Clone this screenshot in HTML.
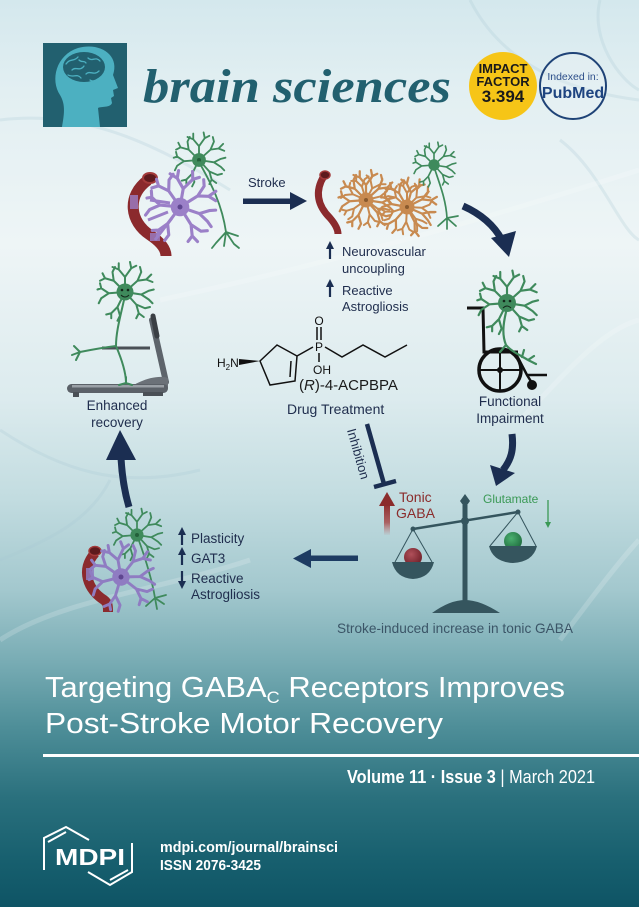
<!DOCTYPE html>
<html><head><meta charset="utf-8"><style>
html,body{margin:0;padding:0;width:639px;height:907px;overflow:hidden;background:#0f5666}
svg{display:block}
text{font-family:"Liberation Sans",sans-serif}
</style></head><body>
<svg xmlns="http://www.w3.org/2000/svg" xmlns:xlink="http://www.w3.org/1999/xlink" width="639" height="907" viewBox="0 0 639 907">
<defs>
<linearGradient id="bg" x1="0" y1="0" x2="0" y2="1">
<stop offset="0" stop-color="#d4e8ed"/>
<stop offset="0.1" stop-color="#e2eff2"/>
<stop offset="0.27" stop-color="#eef5f6"/>
<stop offset="0.44" stop-color="#dcebee"/>
<stop offset="0.55" stop-color="#c2dce0"/>
<stop offset="0.65" stop-color="#a3c8ce"/>
<stop offset="0.73" stop-color="#78acb4"/>
<stop offset="0.8" stop-color="#4f8f99"/>
<stop offset="0.88" stop-color="#2a707d"/>
<stop offset="0.95" stop-color="#175f6e"/>
<stop offset="1" stop-color="#0e5465"/>
</linearGradient>
<linearGradient id="redg" x1="0" y1="0" x2="0" y2="1">
<stop offset="0" stop-color="#8b2c2c"/>
<stop offset="0.6" stop-color="#a64444" stop-opacity="0.8"/>
<stop offset="1" stop-color="#c06060" stop-opacity="0.05"/>
</linearGradient>
<radialGradient id="rball" cx="0.4" cy="0.35" r="0.7">
<stop offset="0" stop-color="#b0505a"/><stop offset="1" stop-color="#6e1f28"/>
</radialGradient>
<radialGradient id="gball" cx="0.4" cy="0.35" r="0.7">
<stop offset="0" stop-color="#4bb070"/><stop offset="1" stop-color="#1e6b3e"/>
</radialGradient>
<g id="star" fill="none" stroke="currentColor" stroke-linecap="round" stroke-linejoin="round">
<path d="M0 0L0 -12L-5 -18L-5 -23M-5 -18L-10 -20M0 -12L5 -19L4 -24M5 -19L9 -21M0 0L10 -9L17 -10L21 -14M17 -10L22 -8M10 -9L13 -16L12 -20M0 0L13 2L19 -1L23 -2M13 2L19 6L22 9M0 0L9 10L11 17L9 21M11 17L15 20M9 10L16 13L20 12M0 0L-6 12L-11 17L-15 18M-11 17L-11 21M-6 12L-4 19L-6 23M0 0L-13 1L-19 -3L-22 -2M-19 -3L-20 -7M-13 1L-19 5L-21 9M0 0L-9 -9L-16 -11L-20 -9M-16 -11L-18 -15M-9 -9L-10 -16L-8 -20"/>
<circle r="6" fill="currentColor" stroke="none"/>
</g>
</defs>

<rect width="639" height="907" fill="url(#bg)"/>
<!-- faint veins -->
<g fill="none" stroke="#a9c9d2" stroke-opacity="0.25" stroke-width="3">
<path d="M0 120 C 80 110, 150 140, 230 190"/>
<path d="M470 0 C 500 60, 560 90, 639 100"/>
<path d="M600 0 C 590 40, 620 80, 639 90"/>
<path d="M560 140 C 600 170, 620 230, 639 240"/>
<path d="M0 430 C 60 470, 120 490, 200 470"/>
<path d="M0 560 C 50 540, 90 520, 110 480"/>
</g>
<g fill="none" stroke="#ffffff" stroke-opacity="0.18" stroke-width="5">
<path d="M160 300 C 300 270, 450 230, 639 170"/>
<path d="M520 420 C 560 380, 600 330, 639 320"/>
<path d="M560 640 C 590 600, 620 560, 639 540"/>
<path d="M0 640 C 60 600, 160 590, 250 560"/>
</g>

<!-- Logo -->
<rect x="43" y="43" width="84" height="84" fill="#22606f"/>
<path d="M62 127 C 64 115, 66 105, 60 95 C 50 80, 56 55, 78 48 C 100 42, 120 55, 113 75 L 118 88 L 113 90 L 114 96 L 111 98 L 112 103 C 110 108, 102 106, 98 108 L 100 127 Z" fill="#4cb0c1"/>
<ellipse cx="84" cy="67" rx="21" ry="15" fill="#22606f"/>
<g fill="none" stroke="#4cb0c1" stroke-width="1.3" stroke-linecap="round">
<path d="M66 64 C 70 58, 74 62, 78 57 M72 70 C 76 66, 80 72, 84 66 M88 58 C 92 62, 96 56, 100 61 M68 75 C 73 78, 77 73, 81 78 M86 74 C 90 70, 94 76, 99 71 M90 80 C 94 83, 98 79, 102 76 M79 60 C 82 63, 84 60, 86 63"/>
</g>
<text x="143" y="102" font-family="Liberation Serif, serif" font-weight="bold" font-style="italic" font-size="48" fill="#22606f" textLength="308" lengthAdjust="spacingAndGlyphs" style="font-family:'Liberation Serif',serif">brain sciences</text>

<!-- Impact factor -->
<circle cx="503" cy="86" r="34" fill="#f6c517"/>
<text x="503" y="73" text-anchor="middle" font-weight="bold" font-size="13" fill="#1a1a1a">IMPACT</text>
<text x="503" y="86" text-anchor="middle" font-weight="bold" font-size="13" fill="#1a1a1a">FACTOR</text>
<text x="503" y="102" text-anchor="middle" font-weight="bold" font-size="17" fill="#1a1a1a">3.394</text>
<circle cx="573" cy="86" r="33" fill="#eaf3f6" fill-opacity="0.3" stroke="#1f4377" stroke-width="2"/>
<text x="573" y="80" text-anchor="middle" font-size="10.5" fill="#2d4f8a">Indexed in:</text>
<text x="573" y="98" text-anchor="middle" font-weight="bold" font-size="16" fill="#1e4480">PubMed</text>

<!-- Group A top-left -->
<use href="#star" transform="translate(199,160) scale(1.15)" color="#3f8a5c" stroke-width="1.6"/>
<circle cx="199" cy="160" r="2" fill="#23603a"/>
<path d="M199 162 C 212 185, 222 205, 226 232 M226 232 L216 243 M226 232 L224 246 M226 232 L234 244 M226 232 L238 236 M216 243 L212 248 M234 244 L239 248" fill="none" stroke="#3f8a5c" stroke-width="1.8" stroke-linecap="round"/>
<path d="M148 180 C 126 196, 130 222, 150 235 C 162 243, 166 250, 166 256" fill="none" stroke="#8b2a2d" stroke-width="11"/>
<ellipse cx="150" cy="178" rx="7" ry="5" fill="#5e1a1d" stroke="#a33a3a" stroke-width="2"/>
<use href="#star" transform="translate(180,207) scale(1.55) rotate(10)" color="#9b80c8" stroke-width="2"/>
<circle cx="180" cy="207" r="2.5" fill="#5e4690"/>
<path d="M150 200 L170 203 M148 220 L168 212 M155 240 L172 218" stroke="#9b80c8" stroke-width="3" fill="none"/>
<rect x="130" y="195" width="8" height="14" fill="#9b80c8" opacity="0.8"/>
<rect x="150" y="233" width="10" height="8" fill="#9b80c8" opacity="0.8"/>

<text x="248" y="187" font-size="13" fill="#1f2d4d">Stroke</text>
<rect x="243" y="198.5" width="49" height="5.5" fill="#1b2e52"/>
<polygon points="290,192 307,201 290,210" fill="#1b2e52"/>

<!-- Group B -->
<path d="M324 176 C 314 192, 318 206, 330 218 C 336 225, 338 230, 338 234" fill="none" stroke="#8b2a2d" stroke-width="7"/>
<ellipse cx="325" cy="175" rx="5" ry="4" fill="#5e1a1d" stroke="#a33a3a" stroke-width="1.5"/>
<use href="#star" transform="translate(366,200) scale(1.25)" color="#c88a50" stroke-width="1.8"/>
<use href="#star" transform="translate(366,200) scale(1.1) rotate(28)" color="#c88a50" stroke-width="1.8"/>
<use href="#star" transform="translate(407,207) scale(1.25) rotate(15)" color="#c88a50" stroke-width="1.8"/>
<use href="#star" transform="translate(407,207) scale(1.1) rotate(45)" color="#c88a50" stroke-width="1.8"/>
<circle cx="366" cy="200" r="2" fill="#8a5a2e"/><circle cx="407" cy="207" r="2" fill="#8a5a2e"/>
<use href="#star" transform="translate(434,165) scale(0.95)" color="#3f8a5c" stroke-width="1.7"/>
<path d="M434 167 C 440 185, 446 200, 447 218 M447 218 L438 226 M447 218 L447 229 M447 218 L456 226 M447 218 L458 216" fill="none" stroke="#3f8a5c" stroke-width="1.7" stroke-linecap="round"/>

<path d="M330 259 L330 248" stroke="#1b2e52" stroke-width="2.2"/><polygon points="326,249 330,241 334,249" fill="#1b2e52"/>
<path d="M330 297 L330 286" stroke="#1b2e52" stroke-width="2.2"/><polygon points="326,287 330,279 334,287" fill="#1b2e52"/>
<text x="342" y="256" font-size="13" fill="#1f2d4d">Neurovascular</text>
<text x="342" y="273" font-size="13" fill="#1f2d4d">uncoupling</text>
<text x="342" y="295" font-size="13" fill="#1f2d4d">Reactive</text>
<text x="342" y="311" font-size="13" fill="#1f2d4d">Astrogliosis</text>

<path d="M463 206 Q 490 218, 502 240" fill="none" stroke="#1b2e52" stroke-width="7"/>
<polygon points="491,238 516,231 509,257" fill="#1b2e52"/>

<!-- Group C wheelchair -->
<path d="M467 308 L483 308 L484 352 L518 352" fill="none" stroke="#111" stroke-width="3"/>
<circle cx="500" cy="370" r="21" fill="none" stroke="#111" stroke-width="3.5"/>
<path d="M479 370 L521 370 M500 349 L500 391" stroke="#111" stroke-width="2"/>
<circle cx="500" cy="370" r="3" fill="#111"/>
<path d="M515 352 L527 375 L547 375 M527 375 L532 383" fill="none" stroke="#111" stroke-width="2.5"/>
<circle cx="532" cy="385" r="5" fill="#111"/>
<use href="#star" transform="translate(507,303) scale(1.35)" color="#3f8a5c" stroke-width="1.6"/>
<circle cx="507" cy="303" r="9" fill="#3f8a5c"/>
<circle cx="504" cy="301" r="1.3" fill="#13261a"/><circle cx="510" cy="301" r="1.3" fill="#13261a"/>
<path d="M503 308 Q 507 304 511 308" fill="none" stroke="#13261a" stroke-width="1"/>
<path d="M506 312 C 503 325, 502 335, 506 345 C 512 352, 520 355, 528 360 M528 360 L534 356 M528 360 L536 364 M522 357 L524 350 M506 345 L500 352" fill="none" stroke="#3f8a5c" stroke-width="2.2" stroke-linecap="round"/>
<text x="510" y="406" text-anchor="middle" font-size="13.5" fill="#1f2d4d">Functional</text>
<text x="510" y="423" text-anchor="middle" font-size="13.5" fill="#1f2d4d">Impairment</text>

<path d="M512 434 C 514 450, 511 460, 503 470" fill="none" stroke="#1b2e52" stroke-width="7"/>
<polygon points="490,465 515,473 496,486" fill="#1b2e52"/>

<!-- Chemical structure -->
<text x="217" y="367" font-size="12" fill="#111">H<tspan font-size="8" dy="3">2</tspan><tspan dy="-3">N</tspan></text>
<polygon points="239,359 239,365 260,361" fill="#111"/>
<path d="M260 361 L277 345 L297 356 L295 381 L270 385 Z M291 361 L290 377 M297 356 L313 347 M325 347 L342 357 L363 345 L385 357 L407 345 M317 327 L317 340 M321 327 L321 340 M319 353 L319 362" fill="none" stroke="#111" stroke-width="1.5"/>
<text x="319" y="351" text-anchor="middle" font-size="12" fill="#111">P</text>
<text x="319" y="325" text-anchor="middle" font-size="12" fill="#111">O</text>
<text x="322" y="374" text-anchor="middle" font-size="12" fill="#111">OH</text>
<text x="299" y="390" font-size="15" fill="#1a1a1a">(<tspan font-style="italic">R</tspan>)-4-ACPBPA</text>
<text x="287" y="414" font-size="14" fill="#1f2d4d">Drug Treatment</text>

<path d="M367 424 L384 484" stroke="#1b2e52" stroke-width="4.5"/>
<path d="M374 487 L396 481" stroke="#1b2e52" stroke-width="4.5"/>
<text transform="translate(354,455) rotate(74)" text-anchor="middle" font-size="13" fill="#1f2d4d">Inhibition</text>

<rect x="384" y="504" width="6" height="31" fill="url(#redg)"/>
<polygon points="379,506 387,492 395,506" fill="#8b2c2c"/>
<text x="399" y="502" font-size="14" fill="#8b2c2c">Tonic</text>
<text x="396" y="518" font-size="14" fill="#8b2c2c">GABA</text>

<!-- Scale -->
<path d="M413 529 L395 562 M413 529 L432 562 M518 512 L490 546 M518 512 L536 546" stroke="#35555e" stroke-width="1"/>
<circle cx="413" cy="557" r="9" fill="url(#rball)"/>
<circle cx="513" cy="541" r="9" fill="url(#gball)"/>
<path d="M392 562 L434 562 Q 430 578 413 579 Q 396 578 392 562 Z" fill="#35555e"/>
<path d="M489 546 L537 546 Q 533 562 513 563 Q 493 562 489 546 Z" fill="#35555e"/>
<rect x="462.5" y="505" width="5" height="102" fill="#35555e"/>
<polygon points="465,494 470,501 465,508 460,501" fill="#35555e"/>
<path d="M432 613 Q 450 600 465 600 Q 480 600 500 613 Z" fill="#35555e"/>
<path d="M413 529 L518 512" stroke="#35555e" stroke-width="2.5"/>
<circle cx="465" cy="521" r="4" fill="#35555e"/>
<circle cx="413" cy="529" r="2.5" fill="#35555e"/><circle cx="518" cy="512" r="2.5" fill="#35555e"/>
<text x="483" y="503" font-size="12" fill="#3a9955">Glutamate</text>
<path d="M548 500 L548 524" stroke="#3a9955" stroke-width="1.3"/>
<polygon points="545,522 548,528 551,522" fill="#3a9955"/>

<rect x="305" y="555.5" width="53" height="5.5" fill="#1d3b62"/>
<polygon points="311,549 293,558.5 311,568" fill="#1d3b62"/>
<text x="337" y="633" font-size="14" fill="#3b5567" textLength="236" lengthAdjust="spacingAndGlyphs">Stroke-induced increase in tonic GABA</text>

<!-- Group F bottom-left -->
<use href="#star" transform="translate(137,535) scale(1.1)" color="#3f8a5c" stroke-width="1.6"/>
<circle cx="137" cy="535" r="2" fill="#23603a"/>
<path d="M138 538 C 146 560, 152 580, 155 598 M155 598 L146 606 M155 598 L157 609 M155 598 L164 604 M155 598 L166 595" fill="none" stroke="#3f8a5c" stroke-width="1.8" stroke-linecap="round"/>
<path d="M95 553 C 80 570, 88 590, 104 600 C 108 603, 108 606, 108 612" fill="none" stroke="#8b2a2d" stroke-width="10"/>
<ellipse cx="95" cy="551" rx="6" ry="4.5" fill="#5e1a1d" stroke="#a33a3a" stroke-width="1.5"/>
<use href="#star" transform="translate(121,577) scale(1.45) rotate(-10)" color="#8f7cc2" stroke-width="2"/>
<circle cx="121" cy="577" r="2.5" fill="#5e4690"/>
<rect x="86" y="568" width="8" height="12" fill="#8f7cc2" opacity="0.85"/>

<path d="M182 545 L182 534" stroke="#1b2e52" stroke-width="2.2"/><polygon points="178,535 182,527 186,535" fill="#1b2e52"/>
<path d="M182 565 L182 554" stroke="#1b2e52" stroke-width="2.2"/><polygon points="178,555 182,547 186,555" fill="#1b2e52"/>
<path d="M182 571 L182 582" stroke="#1b2e52" stroke-width="2.2"/><polygon points="178,581 182,589 186,581" fill="#1b2e52"/>
<text x="191" y="543" font-size="13.5" fill="#1f2d4d">Plasticity</text>
<text x="191" y="563" font-size="13.5" fill="#1f2d4d">GAT3</text>
<text x="191" y="583" font-size="13.5" fill="#1f2d4d">Reactive</text>
<text x="191" y="599" font-size="13.5" fill="#1f2d4d">Astrogliosis</text>

<path d="M129 507 C 124 490, 122 476, 121 458" fill="none" stroke="#1b2e52" stroke-width="7"/>
<polygon points="106,460 120,430 136,460" fill="#1b2e52"/>

<!-- Treadmill -->
<path d="M152 320 L166 382" stroke="#5d646b" stroke-width="6" stroke-linecap="round"/>
<path d="M153 316 L157 336" stroke="#3a3f44" stroke-width="5" stroke-linecap="round"/>
<path d="M102 348 L150 348" stroke="#4a5056" stroke-width="3"/>
<path d="M132 386 C 145 378, 160 375, 168 378 L168 388 Z" fill="#6b7178"/>
<rect x="67" y="384" width="101" height="9" rx="4.5" fill="#5b6168"/>
<rect x="72" y="385" width="92" height="2.5" fill="#9aa0a6"/>
<rect x="73" y="392" width="6" height="5" fill="#4a5056"/>
<rect x="143" y="392" width="20" height="4" fill="#4a5056"/>
<use href="#star" transform="translate(125,292) scale(1.25)" color="#3f8a5c" stroke-width="1.6"/>
<circle cx="125" cy="292" r="8.5" fill="#3f8a5c"/>
<circle cx="122" cy="290" r="1.3" fill="#13261a"/><circle cx="128" cy="290" r="1.3" fill="#13261a"/>
<path d="M121 295 Q 125 299 129 295" fill="none" stroke="#13261a" stroke-width="1"/>
<path d="M124 300 C 120 318, 116 332, 116 346 M116 346 C 100 348, 90 350, 80 352 M80 352 L74 346 M80 352 L72 355 M80 352 L76 360 M116 346 C 122 360, 126 372, 126 383 M126 383 L119 385 M126 383 L132 385 M126 383 L126 377" fill="none" stroke="#3f8a5c" stroke-width="2" stroke-linecap="round"/>
<text x="117" y="410" text-anchor="middle" font-size="13.5" fill="#1f2d4d">Enhanced</text>
<text x="117" y="427" text-anchor="middle" font-size="13.5" fill="#1f2d4d">recovery</text>

<!-- Bottom title -->
<text x="45" y="697" font-size="29" fill="#ffffff" textLength="520" lengthAdjust="spacingAndGlyphs">Targeting GABA<tspan font-size="17" dy="6">C</tspan><tspan dy="-6"> Receptors Improves</tspan></text>
<text x="45" y="733" font-size="29" fill="#ffffff" textLength="398" lengthAdjust="spacingAndGlyphs">Post-Stroke Motor Recovery</text>
<rect x="43" y="754" width="596" height="3" fill="#ffffff"/>
<text x="595" y="783" text-anchor="end" font-size="18" fill="#ffffff" textLength="248" lengthAdjust="spacingAndGlyphs"><tspan font-weight="bold">Volume 11 · Issue 3</tspan> | March 2021</text>

<!-- MDPI -->
<g fill="none" stroke="#ffffff" stroke-width="2">
<path d="M44 870 L44 838 L66 827 L89 840"/>
<path d="M48 842 L66 832"/>
<path d="M132 843 L132 872 L110 885 L88 872"/>
<path d="M128 870 L110 880"/>
</g>
<text x="55" y="865" font-weight="bold" font-size="23" fill="#ffffff" textLength="70" lengthAdjust="spacingAndGlyphs">MDPI</text>
<text x="160" y="852" font-weight="bold" font-size="15" fill="#ffffff" textLength="178" lengthAdjust="spacingAndGlyphs">mdpi.com/journal/brainsci</text>
<text x="160" y="870" font-weight="bold" font-size="15" fill="#ffffff" textLength="101" lengthAdjust="spacingAndGlyphs">ISSN 2076-3425</text>
</svg>
</body></html>
